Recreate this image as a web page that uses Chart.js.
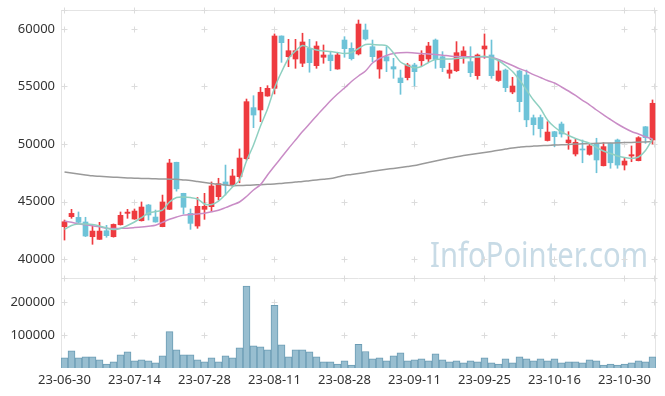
<!DOCTYPE html>
<html>
<head>
<meta charset="utf-8">
<script src="https://cdn.jsdelivr.net/npm/chart.js@4.4.0/dist/chart.umd.min.js"></script>
<style>
  html, body { margin: 0; padding: 0; background: #fff; }
  #wrap { width: 665px; height: 396px; }
</style>
</head>
<body>
<div id="wrap"><canvas id="chart" width="665" height="396"></canvas></div>
<script>
// trading days
const dates = [
  '23-06-30',
  '23-07-03','23-07-04','23-07-05','23-07-06','23-07-07','23-07-10','23-07-11','23-07-12','23-07-13','23-07-14',
  '23-07-17','23-07-18','23-07-19','23-07-20','23-07-21','23-07-24','23-07-25','23-07-26','23-07-27','23-07-28',
  '23-07-31','23-08-01','23-08-02','23-08-03','23-08-04','23-08-07','23-08-08','23-08-09','23-08-10','23-08-11',
  '23-08-14','23-08-16','23-08-17','23-08-18','23-08-21','23-08-22','23-08-23','23-08-24','23-08-25','23-08-28',
  '23-08-29','23-08-30','23-08-31','23-09-01','23-09-04','23-09-05','23-09-06','23-09-07','23-09-08','23-09-11',
  '23-09-12','23-09-13','23-09-14','23-09-15','23-09-18','23-09-19','23-09-20','23-09-21','23-09-22','23-09-25',
  '23-09-26','23-09-27','23-10-04','23-10-05','23-10-06','23-10-10','23-10-11','23-10-12','23-10-13','23-10-16',
  '23-10-17','23-10-18','23-10-19','23-10-20','23-10-23','23-10-24','23-10-25','23-10-26','23-10-27','23-10-30',
  '23-10-31','23-11-01','23-11-02','23-11-03'
];
const tickLabels = ['23-06-30','23-07-14','23-07-28','23-08-11','23-08-28','23-09-11','23-09-25','23-10-16','23-10-30'];
const priceTicks = [40000, 45000, 50000, 55000, 60000];
const volumeTicks = [100000, 200000];

const opens = [
  42810,43680,43620,43220,41940,41710,42460,41940,42980,43970,
  43480,43330,44700,43650,42810,44320,48410,45710,43970,42870,
  44320,44550,45420,46700,46430,47160,48720,53160,52960,54170,
  54840,59390,57590,57390,57020,58320,56810,57540,57740,56520,
  59040,58320,57830,59910,58460,56520,57590,56720,55740,55770,
  56870,57240,57390,59040,57590,56150,56370,57590,57160,55940,
  58260,57740,55520,56430,54520,56350,56000,52280,52300,50300,
  51070,51740,50110,49130,49570,49100,50000,48110,50060,50350,
  48170,48960,48550,51500,50350
];
const highs = [
  43390,44320,44090,43630,42870,43190,42930,43050,44090,44320,
  44350,44960,44750,44260,45560,48670,48420,45720,44350,45350,
  45710,46700,47020,48170,47800,49570,53910,54200,54930,55070,
  59570,59400,59100,59100,59630,59100,58900,58610,58030,57890,
  59330,58800,60780,60430,59040,58090,58460,57450,56430,57020,
  57020,58110,58840,59130,58030,57020,58900,58460,58460,57830,
  59570,59040,57300,56520,55800,56430,56430,52520,52520,51940,
  51100,51910,51070,50410,50350,50060,50500,50110,50080,50430,
  48760,49830,50640,51520,53830
];
const lows = [
  41650,43540,43150,41950,41280,41700,41890,41900,42950,43540,
  43450,43300,43390,43200,42800,44300,45900,43910,42580,42670,
  43450,44110,45130,45570,46290,46630,48610,51420,51940,54150,
  54350,57100,56720,56580,56720,56240,56580,57020,56370,56500,
  57540,57300,57740,59040,57160,55710,56290,55710,54320,55570,
  55040,56810,57160,56580,56290,55710,56300,57020,55850,55630,
  57450,55710,55450,54550,54370,52800,51500,50780,50600,50260,
  49770,50600,49540,48960,48370,49030,47500,48090,47890,47890,
  47740,48460,48530,50060,50000
];
const closes = [
  43240,43970,43190,42000,42430,42430,42030,43010,43800,44080,
  44170,44520,43830,43220,44960,48350,46100,44500,43100,44580,
  44580,46350,46550,46410,47220,48780,53680,52520,54500,54840,
  59390,58810,58110,58110,58870,57070,58520,57740,57240,57740,
  58290,57420,60430,59130,57590,58090,57220,56520,55330,56870,
  56290,57740,58520,57350,56640,56430,57940,58090,56200,57740,
  58520,55940,56350,54900,55040,53680,52100,51680,51330,51040,
  50640,50870,50350,50150,49480,49830,48610,49770,48370,48170,
  48520,49070,50550,50550,53540
];
const volumes = [
  30800,52300,30800,33800,33800,24600,12300,18500,40000,49200,
  21500,24600,21500,15400,36900,110800,55400,40000,40000,24600,
  18500,30800,18500,36900,30800,61500,249200,67700,64600,55400,
  190800,70800,33800,55400,55400,49200,33800,18500,18500,12300,
  21500,9200,71700,50100,27700,30800,21500,36900,46200,21500,
  24600,27700,21500,43100,24600,18500,21500,15400,21500,18500,
  30800,15400,12300,27700,15400,33800,27700,21500,27700,21500,
  27700,15400,18500,18500,15400,24600,21500,9200,12300,9200,
  12300,15400,21500,18500,33800
];
// moving averages
const ma5 = [
  42565,42912,43043,43043,42999,42869,42695,42565,42651,42912,
  43217,43608,43999,44130,44260,44956,45347,45391,45347,45217,
  44782,44739,45043,45608,46260,46869,48521,49913,51565,53043,
  54869,56261,57435,58087,58565,58348,58174,58087,58043,57956,
  57869,57956,58304,58652,58652,58609,58548,57913,57130,56826,
  56626,56739,57087,57348,57374,57391,57435,57478,57504,57565,
  57635,57478,57261,56826,56304,55565,54695,53826,53087,52087,
  51478,51043,50739,50478,50260,50060,49695,49391,49173,48956,
  48826,48739,48869,49434,50434
];
const ma20 = [
  43304,43191,43069,42973,42886,42808,42678,42651,42669,42686,
  42730,42782,42852,42930,43191,43460,43652,43817,43869,43921,
  43982,44104,44243,44469,44713,44956,45434,45999,46469,47304,
  48086,48843,49608,50347,51078,51756,52443,53104,53756,54348,
  54869,55435,55913,56348,57043,57435,57696,57869,57939,57956,
  57913,57878,57826,57774,57722,57652,57600,57591,57591,57583,
  57565,57513,57348,57087,56826,56556,56322,56035,55782,55522,
  55304,54956,54608,54217,53800,53408,52956,52539,52130,51739,
  51391,51087,50869,50626,50434
];
const maLong = [
  47565,47478,47391,47313,47234,47191,47147,47112,47087,47052,
  47026,47009,46991,46974,46956,46939,46930,46878,46826,46739,
  46652,46573,46495,46434,46382,46391,46408,46434,46460,46495,
  46521,46573,46626,46687,46739,46808,46869,46939,47000,47130,
  47269,47348,47434,47530,47626,47713,47800,47878,47956,48043,
  48130,48260,48391,48521,48652,48774,48887,48991,49087,49174,
  49261,49356,49452,49556,49652,49721,49782,49817,49843,49878,
  49904,49930,49956,49991,50017,50043,50061,50078,50087,50104,
  50122,50139,50157,50183,50200
];

const UP = '#ee3a3f';
const DOWN = '#6ec3d8';
const candleColors = opens.map((o, i) => closes[i] >= o ? UP : DOWN);
const FONT = { family: '"Noto Sans", sans-serif', size: 13 };

// frame, cross marks and watermark under the marks
const decor = {
  id: 'decor',
  beforeDatasetsDraw(chart) {
    const { ctx, chartArea: a, scales } = chart;
    const x = scales.x, yp = scales.yPrice, yv = scales.yVol;

    ctx.save();
    const text = 'InfoPointer.com';
    ctx.font = '35px "Noto Sans", sans-serif';
    const w = ctx.measureText(text).width;
    const targetW = 218;
    ctx.translate(a.right - 8 - targetW, yp.bottom - 11);
    ctx.scale(targetW / w, 1);
    ctx.fillStyle = '#c8dbe6';
    ctx.fillText(text, 0, 0);
    ctx.restore();

    ctx.save();
    ctx.strokeStyle = '#e4e4e4';
    ctx.lineWidth = 1;
    ctx.beginPath();
    ctx.moveTo(a.left + 0.5, a.top);
    ctx.lineTo(a.left + 0.5, a.bottom);
    ctx.moveTo(a.right - 0.5, a.top);
    ctx.lineTo(a.right - 0.5, a.bottom);
    ctx.moveTo(a.left, a.top + 0.5);
    ctx.lineTo(a.right, a.top + 0.5);
    ctx.moveTo(a.left, Math.round(yp.bottom) + 0.5);
    ctx.lineTo(a.right, Math.round(yp.bottom) + 0.5);
    ctx.stroke();

    const rows = [a.top, yp.bottom];
    priceTicks.forEach(v => rows.push(yp.getPixelForValue(v)));
    volumeTicks.forEach(v => rows.push(yv.getPixelForValue(v)));
    const cols = [];
    dates.forEach((d, i) => { if (tickLabels.includes(d)) cols.push(x.getPixelForValue(i)); });
    cols.push(a.right - 2);
    ctx.strokeStyle = '#dcdcdc';
    ctx.beginPath();
    cols.forEach(cx => {
      rows.forEach(ry => {
        const px = Math.floor(cx) + 0.5, py = Math.round(ry) + 0.5;
        ctx.moveTo(px - 3, py); ctx.lineTo(px + 3, py);
        ctx.moveTo(px, py - 3); ctx.lineTo(px, py + 3);
      });
    });
    ctx.stroke();
    ctx.restore();
  }
};

const lineStyle = (data, color) => ({
  type: 'line', data, yAxisID: 'yPrice', borderColor: color, borderWidth: 1.5,
  pointRadius: 0, tension: 0.3, fill: false, order: 0
});

const fitY = s => { s.width = 61; s.paddingTop = 0; s.paddingBottom = 0; };

new Chart(document.getElementById('chart'), {
  type: 'bar',
  data: {
    labels: dates,
    datasets: [
      lineStyle(ma5, '#8fd0c1'),
      lineStyle(ma20, '#c98cc6'),
      lineStyle(maLong, '#9a9a9a'),
      {
        data: opens.map((o, i) => [o, closes[i]]),
        yAxisID: 'yPrice', backgroundColor: candleColors, borderWidth: 0,
        barThickness: 5, grouped: false, order: 1
      },
      {
        data: lows.map((l, i) => [l, highs[i]]),
        yAxisID: 'yPrice', backgroundColor: candleColors, borderWidth: 0,
        barThickness: 1, grouped: false, order: 2
      },
      {
        data: volumes,
        yAxisID: 'yVol', backgroundColor: '#98bed0', borderColor: '#6b9cb4', borderWidth: 1,
        barPercentage: 1, categoryPercentage: 1, grouped: false, order: 3
      }
    ]
  },
  options: {
    responsive: false,
    animation: false,
    layout: { padding: { top: 10, right: 9, left: 0, bottom: 0 } },
    plugins: { legend: { display: false }, tooltip: { enabled: false } },
    scales: {
      x: {
        type: 'category', offset: true,
        grid: { display: false, drawTicks: false }, border: { display: false },
        ticks: {
          autoSkip: false, maxRotation: 0, minRotation: 0, padding: 4, color: '#333', font: FONT,
          callback: (v, i) => tickLabels.includes(dates[i]) ? dates[i] : ''
        },
        afterFit: s => { s.height = 28; }
      },
      yVol: {
        type: 'linear', position: 'left', stack: 'panes', stackWeight: 90,
        min: 0, max: 274000,
        grid: { display: false, drawTicks: false }, border: { display: false },
        ticks: { padding: 6, color: '#333', font: FONT, callback: v => String(v) },
        afterBuildTicks: s => { s.ticks = volumeTicks.map(v => ({ value: v })); },
        afterFit: fitY
      },
      yPrice: {
        type: 'linear', position: 'left', stack: 'panes', stackWeight: 268,
        min: 38350, max: 61650,
        grid: { display: false, drawTicks: false }, border: { display: false },
        ticks: { padding: 6, color: '#333', font: FONT, callback: v => String(v) },
        afterBuildTicks: s => { s.ticks = priceTicks.map(v => ({ value: v })); },
        afterFit: fitY
      }
    }
  },
  plugins: [decor]
});
</script>
</body>
</html>
